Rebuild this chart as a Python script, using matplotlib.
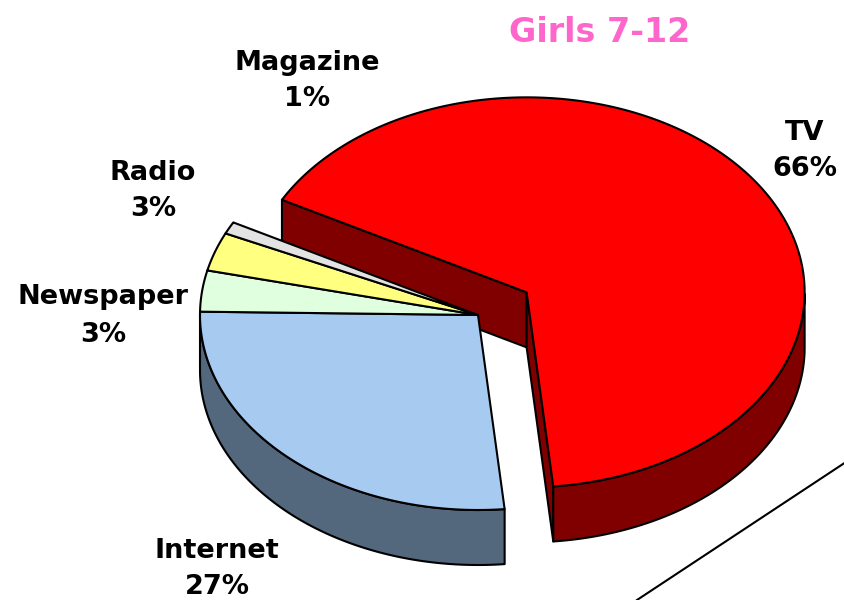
#!/usr/bin/env python3
# -*- coding: utf-8 -*-
import numpy as np
import matplotlib
matplotlib.use("Agg")
import matplotlib.pyplot as plt
from matplotlib.patches import Polygon

# data (percent)
categories = ["TV", "Internet", "Newspaper", "Radio", "Magazine"]
values = [65.6, 26.8, 3.4, 3.2, 1.0]
top_colors = ["#FF0000", "#A6CAF0", "#DFFFDF", "#FFFF80", "#E3E3E3"]
side_colors = ["#800000", "#53677D", "#A0B8A0", "#B8B860", "#A0A0A0"]
explode = [0.21, 0, 0, 0, 0]
label_pos = [(805, 151), (217, 569), (103, 316), (153, 191), (307, 81)]

# pie geometry, pixel units
cx, cy = 478, 315
rx, ry = 278, 195
depth = 55
end_first = -84.5  # clockwise end of the TV slice

W, H = 844, 600
fig = plt.figure(figsize=(W / 100, H / 100), dpi=100)
ax = fig.add_axes([0, 0, 1, 1])
ax.set_xlim(0, W)
ax.set_ylim(H, 0)
ax.axis("off")

EDGE = dict(edgecolor="black", linewidth=1.5, joinstyle="round")


def pt(ox, oy, a, dz=0):
    r = np.radians(a)
    return ox + rx * np.cos(r), oy - ry * np.sin(r) + dz


# slice angles, going clockwise
total = sum(values)
spans = [v / total * 360 for v in values]
a_start0 = end_first + spans[0]
slices = []
a = a_start0
for i, s in enumerate(spans):
    slices.append((a, a - s))
    a -= s
n = len(values)


def draw_slice(i):
    a1, a2 = slices[i]
    mid = np.radians((a1 + a2) / 2)
    ox = cx + explode[i] * rx * np.cos(mid)
    oy = cy - explode[i] * ry * np.sin(mid)
    # radial walls, only where the neighbour is pulled apart
    if np.cos(np.radians(a1)) < 0 and explode[i] != explode[(i - 1) % n]:
        p = pt(ox, oy, a1)
        ax.add_patch(Polygon([(ox, oy), p, (p[0], p[1] + depth), (ox, oy + depth)],
                             facecolor=side_colors[i], **EDGE))
    if np.cos(np.radians(a2)) > 0 and explode[i] != explode[(i + 1) % n]:
        p = pt(ox, oy, a2)
        ax.add_patch(Polygon([(ox, oy), p, (p[0], p[1] + depth), (ox, oy + depth)],
                             facecolor=side_colors[i], **EDGE))
    # outer rim where it faces the viewer
    th = np.linspace(a1, a2, 400)
    vis = np.sin(np.radians(th)) <= 0
    runs = []
    cur = []
    for t, v in zip(th, vis):
        if v:
            cur.append(t)
        elif cur:
            runs.append(cur)
            cur = []
    if cur:
        runs.append(cur)
    for run in runs:
        if len(run) < 2:
            continue
        topp = [pt(ox, oy, t) for t in run]
        botp = [pt(ox, oy, t, depth) for t in run[::-1]]
        ax.add_patch(Polygon(topp + botp, facecolor=side_colors[i], **EDGE))
    return ox, oy


def draw_top(i, ox, oy):
    a1, a2 = slices[i]
    th = np.linspace(a1, a2, 300)
    pts = [(ox, oy)] + [pt(ox, oy, t) for t in th]
    ax.add_patch(Polygon(pts, facecolor=top_colors[i], **EDGE))


# exploded TV slice first (it sits behind the others)
o = draw_slice(0)
draw_top(0, *o)
origins = {}
for i in range(1, n):
    origins[i] = draw_slice(i)
for i in range(1, n):
    draw_top(i, *origins[i])

# floor edge
ax.plot([637, 846], [600, 462], color="black", lw=1.5)

# labels
for name, v, (lx, ly) in zip(categories, values, label_pos):
    ax.text(lx, ly, f"{name}\n{v:.0f}%", ha="center", va="center",
            fontsize=19.5, fontweight="bold", linespacing=1.55, color="black")

ax.text(600, 32, "Girls 7-12", ha="center", va="center", fontsize=24,
        fontweight="bold", color="#FF66CC")

fig.savefig("out.png", dpi=100)
